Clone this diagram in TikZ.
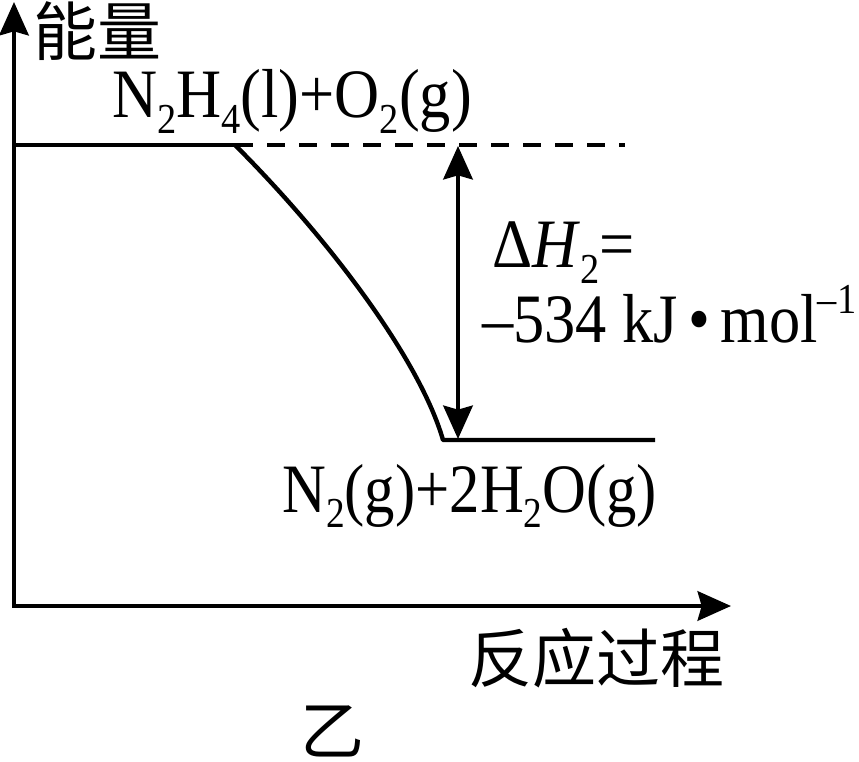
\documentclass[tikz,border=0pt]{standalone}
\usepackage{fontspec}
\usepackage{graphicx}
\setmainfont{Liberation Serif}
\newfontfamily\cjk{Noto Sans CJK SC}
\usetikzlibrary{arrows.meta}
\newcommand\chsub[1]{\raisebox{-0.22em}{\fontsize{32}{34}\selectfont #1}}
\newcommand\chsup[1]{\raisebox{0.42em}{\fontsize{32}{34}\selectfont #1}}
\newcommand\narrow[2][0.9]{\scalebox{#1}[1]{#2}}
\begin{document}
\begin{tikzpicture}[x=0.75pt,y=-0.75pt,
  line/.style={line width=3.3pt},
  formula/.style={inner sep=0pt,anchor=base west,font=\fontsize{52}{56}\selectfont},
  cjklabel/.style={inner sep=0pt,font=\cjk\fontsize{48}{52}\selectfont}]
\useasboundingbox (0,0) rectangle (859,762);
% coordinates
\coordinate (ytip) at (14,2);
\coordinate (O) at (14,606);
\coordinate (xtip) at (731,606);
\coordinate (hiL) at (14,145);
\coordinate (hiA) at (235,145);
\coordinate (hiR) at (625,145);
\coordinate (loA) at (443,440);
\coordinate (loR) at (655,440);
\coordinate (dTop) at (458,146);
\coordinate (dBot) at (458,439);
% axes
\draw[line,{Stealth[length=25pt,width=22pt,inset=3pt]}-{Stealth[length=25pt,width=22pt,inset=3pt]},line join=miter] (ytip) -- (O) -- (xtip);
% levels
\draw[line] (hiL) -- (hiA);
\draw[line,dash pattern=on 13.5pt off 10.5pt] (hiA) -- (hiR);
\draw[line,line join=round] (hiA) .. controls (330,240) and (420,360) .. (loA) -- (loR);
% enthalpy arrow
\draw[line,{Stealth[length=25pt,width=22pt,inset=3pt]}-{Stealth[length=25pt,width=22pt,inset=3pt]}] (dTop) -- (dBot);
% labels
\node[cjklabel] (ylab) at (97,31) {能量};
\node[cjklabel] (xlab) at (596,658) {反应过程};
\node[cjklabel] (cap) at (332,731) {乙};
\node[formula] (react) at (112,118) {\narrow{N\chsub{2}H\chsub{4}(l)+O\chsub{2}(g)}};
\node[formula] (prod) at (282,512) {\narrow[0.875]{N\chsub{2}(g)+2H\chsub{2}O(g)}};
\node[formula] (dh) at (492,268) {\narrow{Δ\textit{H}\chsub{2}=}};
\node[formula] (val) at (482,343) {\narrow{–534 kJ\,•\,mol\chsup{–1}}};
\end{tikzpicture}
\end{document}
